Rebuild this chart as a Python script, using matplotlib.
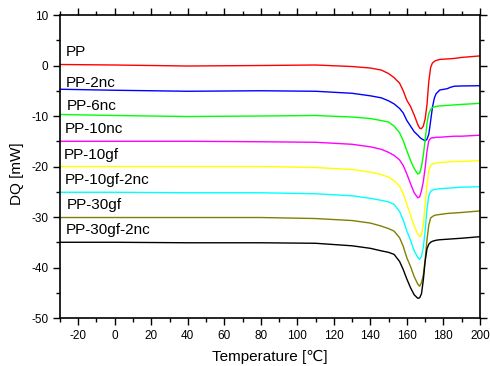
import matplotlib
matplotlib.use("Agg")
import matplotlib.pyplot as plt
from matplotlib.ticker import MultipleLocator

plt.rcParams['font.family'] = ['Liberation Sans', 'DejaVu Sans']
plt.rcParams['axes.unicode_minus'] = False

# Temperatura [°C]
temp = [-30, 0, 40, 80, 110, 130, 140, 146, 150, 153, 156, 158, 160, 162, 164,
        166, 167, 168, 169, 170, 171, 172, 173, 174, 175, 176, 178, 182, 184, 186, 190, 200]

pp = [0.2, 0.1, -0.1, 0.0, 0.1, -0.2, -0.5, -0.9, -1.6, -2.4, -3.5, -5.0, -6.9, -8.1, -9.8,
      -11.7, -12.4, -12.5, -12.0, -10.6, -7.8, -3.2, -0.4, 0.5, 0.8, 1.0, 1.2, 1.3, 1.35, 1.4, 1.6, 1.9]
pp_2nc = [-4.7, -4.9, -5.1, -5.0, -5.1, -5.5, -6.0, -6.4, -7.0, -7.6, -8.5, -9.4, -10.9, -12.0, -13.1,
          -13.8, -14.2, -14.5, -14.7, -14.9, -14.6, -13.6, -11.0, -8.3, -6.5, -5.6, -4.85, -4.6, -4.3, -4.1, -4.05, -4.0]
pp_6nc = [-9.7, -9.9, -10.1, -10.0, -9.9, -10.2, -10.5, -10.9, -11.2, -12.0, -13.3, -14.9, -16.9, -18.8, -20.4,
          -21.5, -21.3, -20.0, -17.8, -14.8, -11.5, -9.5, -8.7, -8.3, -8.2, -8.1, -8.0, -7.9, -7.85, -7.8, -7.7, -7.5]
pp_10nc = [-15.0, -15.0, -15.0, -15.1, -15.2, -15.6, -16.1, -16.6, -17.2, -17.8, -18.7, -19.8, -21.5, -23.4, -25.2,
           -26.2, -26.0, -24.8, -23.0, -20.3, -17.0, -14.9, -14.4, -14.3, -14.3, -14.2, -14.2, -14.1, -14.05, -14.0, -14.0, -13.8]
pp_10gf = [-20.0, -20.0, -20.0, -20.0, -20.2, -20.6, -21.1, -21.6, -22.1, -22.8, -23.9, -25.4, -27.5, -29.6, -31.8,
           -33.4, -33.9, -33.5, -31.5, -27.5, -23.5, -20.8, -19.8, -19.5, -19.4, -19.3, -19.2, -19.1, -19.05, -19.0, -19.0, -18.85]
pp_10gf_2nc = [-25.1, -25.1, -25.2, -25.2, -25.4, -25.8, -26.3, -26.7, -27.0, -27.5, -28.9, -30.6, -32.8, -34.6, -36.7,
               -38.0, -38.4, -37.8, -36.0, -32.8, -28.5, -25.8, -24.9, -24.7, -24.5, -24.5, -24.4, -24.3, -24.25, -24.2, -24.1, -24.0]
pp_30gf = [-30.1, -30.1, -30.1, -30.1, -30.3, -30.7, -31.2, -31.8, -32.3, -32.8, -34.1, -35.8, -38.1, -39.8, -41.8,
           -43.3, -43.7, -43.0, -41.5, -38.5, -34.5, -31.6, -30.2, -29.9, -29.7, -29.6, -29.5, -29.3, -29.25, -29.2, -29.1, -28.8]
pp_30gf_2nc = [-35.0, -35.0, -35.1, -35.1, -35.2, -35.7, -36.2, -36.7, -37.0, -37.4, -38.8, -40.4, -42.3, -44.0, -45.4,
               -46.1, -46.0, -45.2, -42.5, -38.8, -36.3, -35.4, -35.0, -34.8, -34.7, -34.6, -34.5, -34.4, -34.35, -34.3, -34.2, -33.9]

nombres = ['PP', 'PP-2nc', 'PP-6nc', 'PP-10nc', 'PP-10gf', 'PP-10gf-2nc', 'PP-30gf', 'PP-30gf-2nc']
series = [pp, pp_2nc, pp_6nc, pp_10nc, pp_10gf, pp_10gf_2nc, pp_30gf, pp_30gf_2nc]
colores = ['#ff0000', '#0000ff', '#00ff00', '#ff00ff', '#ffff00', '#00ffff', '#808000', '#000000']
# posicion de las etiquetas (y en mW)
etiqueta_y = [2.6, -3.4, -8.0, -12.6, -17.7, -22.7, -27.6, -32.6]
etiqueta_x = [-27.0, -27.0, -26.5, -27.3, -27.8, -27.3, -26.5, -27.0]

fig = plt.figure(figsize=(4.9, 3.66), dpi=100)
ax = fig.add_axes([0.1224, 0.1311, 0.8570, 0.8279])

for datos, col in zip(series, colores):
    ax.plot(temp, datos, color=col, lw=1.0)

for nom, xx, yy in zip(nombres, etiqueta_x, etiqueta_y):
    ax.text(xx, yy, nom, fontsize=11, ha='left', va='center')

ax.set_xlim(-30, 200)
ax.set_ylim(-50, 10)
ax.xaxis.set_major_locator(MultipleLocator(20))
ax.xaxis.set_minor_locator(MultipleLocator(10))
ax.yaxis.set_major_locator(MultipleLocator(10))
ax.yaxis.set_minor_locator(MultipleLocator(5))
ax.tick_params(which='both', direction='out', top=True, right=True,
               labeltop=False, labelright=False, labelsize=8.5, width=1.0)
ax.tick_params(which='major', length=5)
ax.tick_params(which='minor', length=3)
for s in ax.spines.values():
    s.set_linewidth(1.2)

ax.set_xlabel('Temperature [℃]', fontsize=11, labelpad=6)
ax.set_ylabel('DQ [mW]', fontsize=11)
ax.yaxis.set_label_coords(-0.085, 0.475)

fig.savefig('out.png', dpi=100)
